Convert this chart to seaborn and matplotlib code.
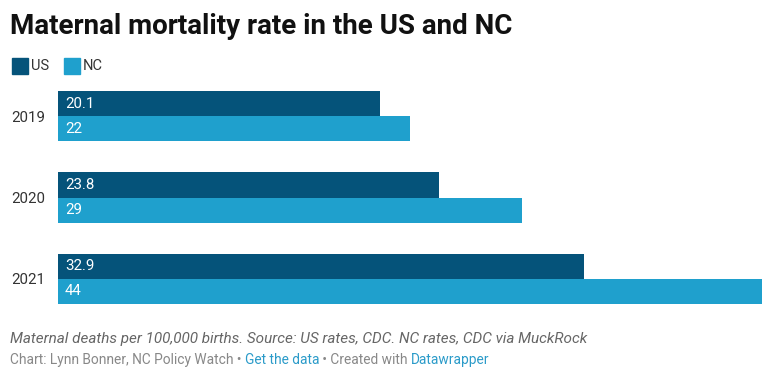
import pandas as pd
import matplotlib
matplotlib.use('Agg')
import matplotlib.pyplot as plt
import seaborn as sns

years = ['2019', '2020', '2021']
us_rates = [20.1, 23.8, 32.9]
nc_rates = [22, 29, 44]
series_names = ['US', 'NC']
series_colors = ['#05537a', '#1fa0cd']

rows = []
for i, y in enumerate(years):
    rows.append({'year': y, 'region': 'US', 'rate': us_rates[i]})
    rows.append({'year': y, 'region': 'NC', 'rate': nc_rates[i]})
df = pd.DataFrame(rows)

sns.set_theme(style='white')
plt.rcParams['font.family'] = ['Roboto', 'DejaVu Sans']

fig = plt.figure(figsize=(7.68, 3.74), dpi=100)
W, H = 768, 374
ax = fig.add_axes([58 / W, 1 - 304 / H, (762 - 58) / W, (304 - 91) / H])

sns.barplot(data=df, x='rate', y='year', hue='region', order=years,
            hue_order=series_names, palette=series_colors, orient='h',
            width=50 / 81, gap=0, saturation=1, legend=False, ax=ax,
            linewidth=0)

ax.set_xlim(0, 44)
half = 25 / 81
ax.set_ylim(2 + half, -half)
ax.set_xlabel('')
ax.set_ylabel('')
ax.set_xticks([])
ax.tick_params(axis='y', length=0, pad=9, labelsize=10.8, labelcolor='#333333')
for s in ax.spines.values():
    s.set_visible(False)

# value labels inside bars, left aligned
for container in ax.containers:
    ax.bar_label(container, labels=[f'{v:g}' for v in container.datavalues],
                 label_type='edge', color='white', fontsize=10.8)
for txt in ax.texts:
    x, y = txt.xy
    txt.xy = (0, y)
    txt.set_ha('left')
    txt.xyann = (5, 0)

# title
fig.text(10 / W, 1 - 26 / H, 'Maternal mortality rate in the US and NC',
         fontsize=20, fontweight='bold', color='#111111', va='center', ha='left')

# legend
for i, (name, col) in enumerate(zip(series_names, series_colors)):
    x0 = [12, 64][i]
    fig.patches.append(plt.Rectangle((x0 / W, 1 - 74 / H), 16 / W, 16 / H,
                                     transform=fig.transFigure, color=col, figure=fig))
    fig.text((x0 + 19) / W, 1 - 66 / H, name, fontsize=10.5, color='#333333',
             va='center', ha='left')

# footer
fig.text(10 / W, 1 - 339 / H,
         'Maternal deaths per 100,000 births. Source: US rates, CDC. NC rates, CDC via MuckRock',
         fontsize=11, style='italic', color='#666666', va='center', ha='left')
parts = [('Chart: Lynn Bonner, NC Policy Watch • ', '#888888'),
         ('Get the data', '#2b9bc9'),
         (' • Created with ', '#888888'),
         ('Datawrapper', '#2b9bc9')]
fig.canvas.draw()
xpos = 10 / W
renderer = fig.canvas.get_renderer()
for text, col in parts:
    t = fig.text(xpos, 1 - 360 / H, text, fontsize=9.9, color=col, va='center', ha='left')
    bb = t.get_window_extent(renderer=renderer)
    xpos += bb.width / W

fig.savefig('out.png', dpi=100)
